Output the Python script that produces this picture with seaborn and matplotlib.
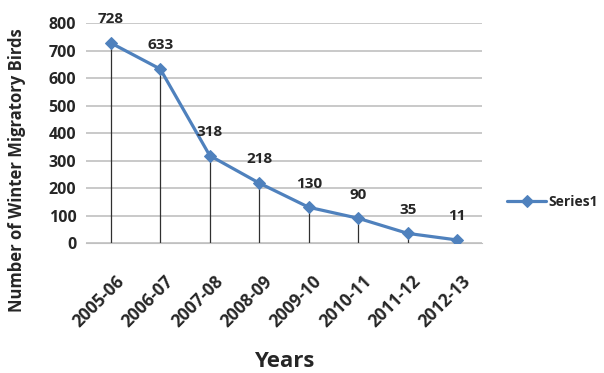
import matplotlib
matplotlib.use('Agg')
import matplotlib.pyplot as plt
import matplotlib.transforms as mtransforms
import pandas as pd
import seaborn as sns

# winter migratory bird counts per season
years = ['2005-06', '2006-07', '2007-08', '2008-09', '2009-10', '2010-11', '2011-12', '2012-13']
birds = [728, 633, 318, 218, 130, 90, 35, 11]
y_ticks = [0, 100, 200, 300, 400, 500, 600, 700, 800]

sns.set_style('white')
plt.rcParams['font.family'] = ['Open Sans', 'DejaVu Sans']
plt.rcParams['font.weight'] = 'bold'

df = pd.DataFrame({'Years': years, 'Birds': birds, 'x': range(len(years))})

fig = plt.figure(figsize=(6.04, 3.73), dpi=100)
ax = fig.add_axes([0.1424, 0.3485, 0.6556, 0.5895])

# horizontal gridlines
for t in y_ticks:
    ax.axhline(t, color='#c0c0c0', lw=1.2, zorder=0)

# drop lines from each point down to the axis
ax.vlines(df['x'], 0, df['Birds'], color='#303030', lw=0.9, zorder=1)

sns.lineplot(data=df, x='x', y='Birds', ax=ax, color='#4f81bd', lw=2.3,
             marker='D', markersize=6.5, markeredgecolor='#4f81bd',
             label='Series1', zorder=3)

for xi, v in zip(df['x'], df['Birds']):
    ax.annotate(str(v), (xi, v), xytext=(0, 17), textcoords='offset points',
                ha='center', va='center', fontsize=11, fontweight='bold')

ax.set_xlim(-0.5, len(years) - 0.5)
ax.set_ylim(0, 800)
ax.set_yticks(y_ticks)
ax.set_yticklabels([str(t) for t in y_ticks], fontsize=11.5, fontweight='bold')
ax.set_xticks(df['x'])
ax.set_xticklabels(years, rotation=45, ha='right', rotation_mode='anchor',
                   fontsize=12.5, fontweight='bold')
ax.tick_params(axis='both', length=0)
ax.tick_params(axis='y', pad=7)
ax.tick_params(axis='x', pad=21)
shift = mtransforms.ScaledTranslation(4 / 100, 0, fig.dpi_scale_trans)
for lab in ax.get_xticklabels():
    lab.set_transform(lab.get_transform() + shift)

for s in ['top', 'right', 'left']:
    ax.spines[s].set_visible(False)
ax.spines['bottom'].set_color('#c0c0c0')

ax.set_xlabel('Years', fontsize=16, fontweight='bold', va='center')
ax.xaxis.set_label_coords(0.5, -0.54)
ax.set_ylabel('Number of Winter Migratory Birds', fontsize=12, fontweight='bold', va='center')
ax.yaxis.set_label_coords(-0.174, 0.332)

leg = ax.legend(loc='center left', bbox_to_anchor=(1.05, 0.186), frameon=False,
                prop={'size': 10, 'weight': 'bold'}, handlelength=2.8,
                handletextpad=0.15, borderaxespad=0)

plt.savefig('out.png', dpi=100)
